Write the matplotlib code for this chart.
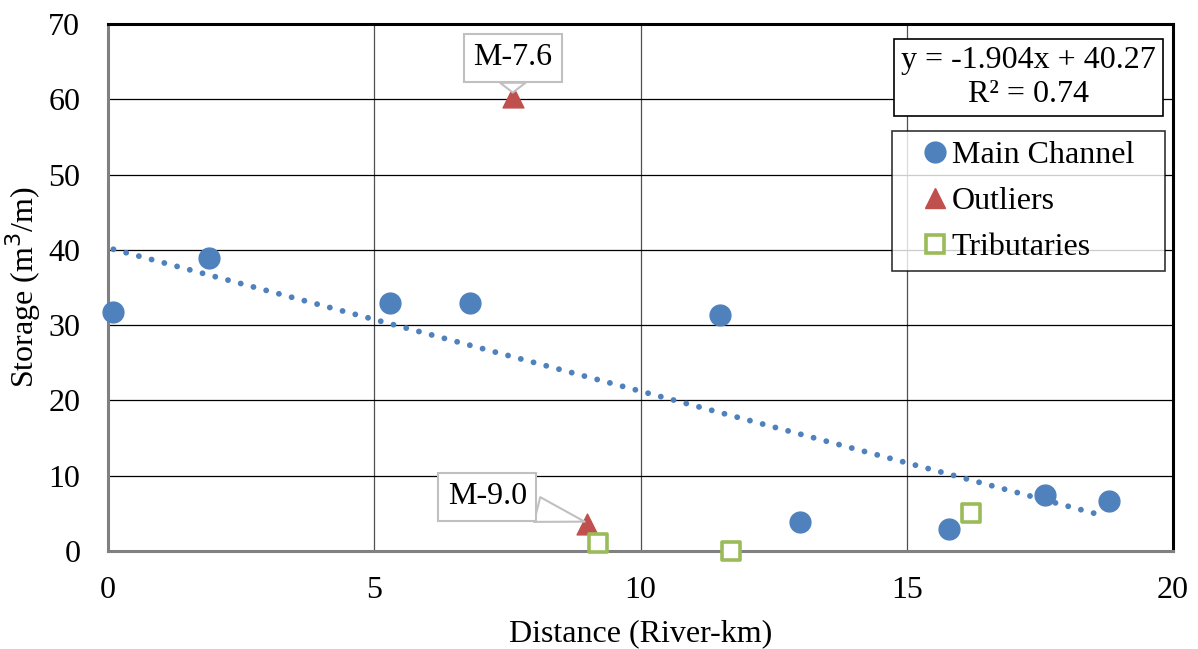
import numpy as np
import matplotlib
matplotlib.use("Agg")
import matplotlib.pyplot as plt
from matplotlib.lines import Line2D

plt.rcParams['font.family'] = ['Liberation Serif', 'DejaVu Serif']

# data
main_x = [0.1, 1.9, 5.3, 6.8, 11.5, 13.0, 15.8, 17.6, 18.8]
main_y = [31.8, 38.9, 32.9, 33.0, 31.3, 3.9, 2.9, 7.4, 6.6]
out_x = [7.6, 9.0]
out_y = [60.3, 3.6]
out_lab = ["M-7.6", "M-9.0"]
trib_x = [9.2, 11.7, 16.2]
trib_y = [1.1, 0.0, 5.1]
slope = -1.904
icpt = 40.27
r2 = 0.74

blue = '#4F81BD'
red = '#C0504D'
green = '#9BBB59'
fs = 23

fig = plt.figure(figsize=(11.98, 6.49), dpi=100)
ax = fig.add_axes([0.0902, 0.151, 0.889, 0.812])

# linear trendline over main channel range
tx = np.array([min(main_x), max(main_x) - 0.15])
ax.plot(tx, slope * tx + icpt, color=blue, lw=4.2, ls=(0, (0.01, 2.25)),
        dash_capstyle='round', zorder=2)

ax.scatter(main_x, main_y, s=225, color=blue, marker='o', zorder=3, clip_on=False)
ax.scatter(out_x, out_y, s=225, color=red, marker='^', zorder=3, clip_on=False)
ax.scatter(trib_x, trib_y, s=180, facecolor='white', edgecolor=green, marker='s',
           linewidths=2.6, zorder=3, clip_on=False)

ax.set_xlim(0, 20)
ax.set_ylim(0, 70)
ax.set_xticks(range(0, 21, 5))
ax.set_yticks(range(0, 71, 10))
ax.grid(True, axis='y', color='black', lw=0.9)
ax.grid(True, axis='x', color='#505050', lw=0.9)
ax.set_axisbelow(True)
ax.tick_params(length=0, labelsize=fs)
ax.tick_params(axis='y', pad=20)
ax.tick_params(axis='x', pad=18)
for s in ['top', 'right']:
    ax.spines[s].set_color('black')
    ax.spines[s].set_linewidth(2.2)
for s in ['left', 'bottom']:
    ax.spines[s].set_color('#808080')
    ax.spines[s].set_linewidth(2.2)

ax.set_xlabel("Distance (River-km)", fontsize=fs, labelpad=10)
ax.set_ylabel("Storage (m$^3$/m)", fontsize=fs, labelpad=3.5)

# callouts
box = dict(boxstyle='square,pad=0.3', fc='white', ec='#c0c0c0', lw=1.5)
ax.annotate(out_lab[0], xy=(out_x[0], out_y[0] + 0.6), xytext=(7.6, 65.5),
            fontsize=fs, ha='center', va='center', bbox=box,
            arrowprops=dict(arrowstyle='wedge,tail_width=0.8', fc='white',
                            ec='#c0c0c0', lw=1.5, shrinkA=0, shrinkB=0))
ax.annotate(out_lab[1], xy=(out_x[1] - 0.05, out_y[1] + 0.3), xytext=(7.12, 7.2),
            fontsize=fs, ha='center', va='center', bbox=box,
            arrowprops=dict(arrowstyle='wedge,tail_width=0.8', fc='white',
                            ec='#c0c0c0', lw=1.5, shrinkA=0, shrinkB=0))

ax.text(17.29, 62.9, "y = %.3fx + %.2f\nR² = %.2f" % (slope, icpt, r2),
        fontsize=fs, ha='center', va='center', linespacing=1.22,
        bbox=dict(boxstyle='square,pad=0.22', fc='white', ec='black', lw=1.2))

handles = [
    Line2D([], [], ls='', marker='o', ms=15, color=blue),
    Line2D([], [], ls='', marker='^', ms=15, color=red),
    Line2D([], [], ls='', marker='s', ms=13, mfc='white', mec=green, mew=2.6),
]
leg = ax.legend(handles, ["Main Channel", "Outliers", "Tributaries"],
                loc='upper left', bbox_to_anchor=(0.736, 0.0, 0.2563, 0.797),
                mode='expand',
                fontsize=fs, frameon=True, fancybox=False, edgecolor='black',
                handletextpad=-0.5, handlelength=2.07, borderpad=0.3,
                labelspacing=0.52, borderaxespad=0)
leg.get_frame().set_linewidth(1.2)

fig.savefig("out.png", dpi=100)
